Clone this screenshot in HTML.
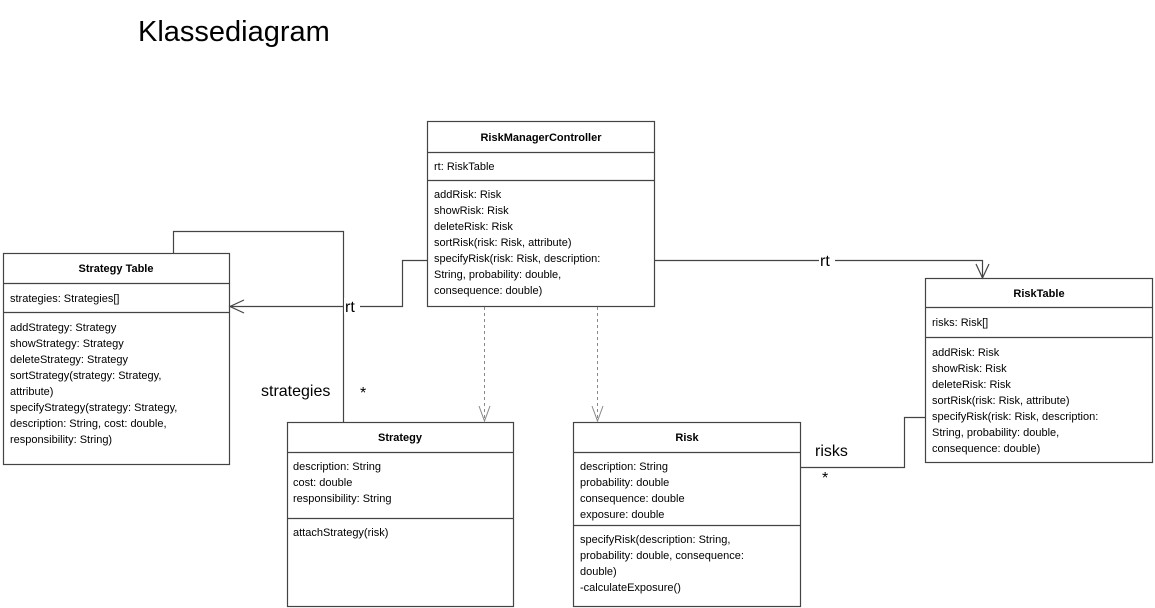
<!DOCTYPE html>
<html><head><meta charset="utf-8"><style>
html,body{margin:0;padding:0;background:#fff;}
svg{display:block;}
text{font-family:"Liberation Sans",sans-serif;font-size:11px;fill:#000;}
.b{font-weight:bold;}
.big{font-size:16px;}
</style></head><body>
<svg width="1155" height="608" viewBox="0 0 1155 608" xmlns="http://www.w3.org/2000/svg">
<text x="138" y="41" style="font-size:29px">Klassediagram</text>
<g fill="#fff" stroke="#444" stroke-width="1.2">
<rect x="427.5" y="121.5" width="227" height="185"/>
<line x1="427" y1="152.5" x2="654" y2="152.5"/><line x1="427" y1="180.5" x2="654" y2="180.5"/>
<rect x="3.5" y="253.5" width="226" height="211"/>
<line x1="3" y1="283.5" x2="229" y2="283.5"/><line x1="3" y1="312.5" x2="229" y2="312.5"/>
<rect x="287.5" y="422.5" width="226" height="184"/>
<line x1="287" y1="452.5" x2="513" y2="452.5"/><line x1="287" y1="518.5" x2="513" y2="518.5"/>
<rect x="573.5" y="422.5" width="227" height="184"/>
<line x1="573" y1="452.5" x2="800" y2="452.5"/><line x1="573" y1="525.5" x2="800" y2="525.5"/>
<rect x="925.5" y="278.5" width="227" height="184"/>
<line x1="925" y1="307.5" x2="1152" y2="307.5"/><line x1="925" y1="337.5" x2="1152" y2="337.5"/>
</g>
<g fill="none" stroke="#444" stroke-width="1.2">
<polyline points="427,260.5 402.5,260.5 402.5,306.5 230,306.5"/>
<polyline points="244,300 230,306.5 244,313"/>
<polyline points="173.5,253 173.5,231.5 343.5,231.5 343.5,422"/>
<polyline points="654,260.5 982.5,260.5 982.5,278"/>
<polyline points="976,264 982.5,278 989,264"/>
<polyline points="800,467.5 904.5,467.5 904.5,417.5 925,417.5"/>
</g>
<g fill="none" stroke="#888" stroke-width="1">
<line x1="484.5" y1="307" x2="484.5" y2="421" stroke-dasharray="3,3"/>
<polyline points="479,406 484.5,421 490,406"/>
<line x1="597.5" y1="307" x2="597.5" y2="421" stroke-dasharray="3,3"/>
<polyline points="592,406 597.5,421 603,406"/>
</g>
<rect x="344" y="298" width="16" height="16" fill="#fff"/>
<text class="big" x="345" y="312">rt</text>
<rect x="819" y="252" width="16" height="16" fill="#fff"/>
<text class="big" x="820" y="266">rt</text>
<text class="big" x="261" y="396">strategies</text>
<text class="big" x="360" y="398">*</text>
<text class="big" x="815" y="456">risks</text>
<text class="big" x="822" y="483">*</text>
<text class="b" x="541" y="141" text-anchor="middle">RiskManagerController</text>
<text x="434" y="170">rt: RiskTable</text>
<text x="434" y="198">addRisk: Risk</text>
<text x="434" y="214">showRisk: Risk</text>
<text x="434" y="230">deleteRisk: Risk</text>
<text x="434" y="246">sortRisk(risk: Risk, attribute)</text>
<text x="434" y="262">specifyRisk(risk: Risk, description:</text>
<text x="434" y="278">String, probability: double,</text>
<text x="434" y="294">consequence: double)</text>
<text class="b" x="116" y="272" text-anchor="middle">Strategy Table</text>
<text x="10" y="302">strategies: Strategies[]</text>
<text x="10" y="331">addStrategy: Strategy</text>
<text x="10" y="347">showStrategy: Strategy</text>
<text x="10" y="363">deleteStrategy: Strategy</text>
<text x="10" y="379">sortStrategy(strategy: Strategy,</text>
<text x="10" y="395">attribute)</text>
<text x="10" y="411">specifyStrategy(strategy: Strategy,</text>
<text x="10" y="427">description: String, cost: double,</text>
<text x="10" y="443">responsibility: String)</text>
<text class="b" x="400" y="441" text-anchor="middle">Strategy</text>
<text x="293" y="470">description: String</text>
<text x="293" y="486">cost: double</text>
<text x="293" y="502">responsibility: String</text>
<text x="293" y="536">attachStrategy(risk)</text>
<text class="b" x="687" y="441" text-anchor="middle">Risk</text>
<text x="580" y="470">description: String</text>
<text x="580" y="486">probability: double</text>
<text x="580" y="502">consequence: double</text>
<text x="580" y="518">exposure: double</text>
<text x="580" y="543">specifyRisk(description: String,</text>
<text x="580" y="559">probability: double, consequence:</text>
<text x="580" y="575">double)</text>
<text x="580" y="591">-calculateExposure()</text>
<text class="b" x="1039" y="297" text-anchor="middle">RiskTable</text>
<text x="932" y="326">risks: Risk[]</text>
<text x="932" y="356">addRisk: Risk</text>
<text x="932" y="372">showRisk: Risk</text>
<text x="932" y="388">deleteRisk: Risk</text>
<text x="932" y="404">sortRisk(risk: Risk, attribute)</text>
<text x="932" y="420">specifyRisk(risk: Risk, description:</text>
<text x="932" y="436">String, probability: double,</text>
<text x="932" y="452">consequence: double)</text>
</svg>
</body></html>
